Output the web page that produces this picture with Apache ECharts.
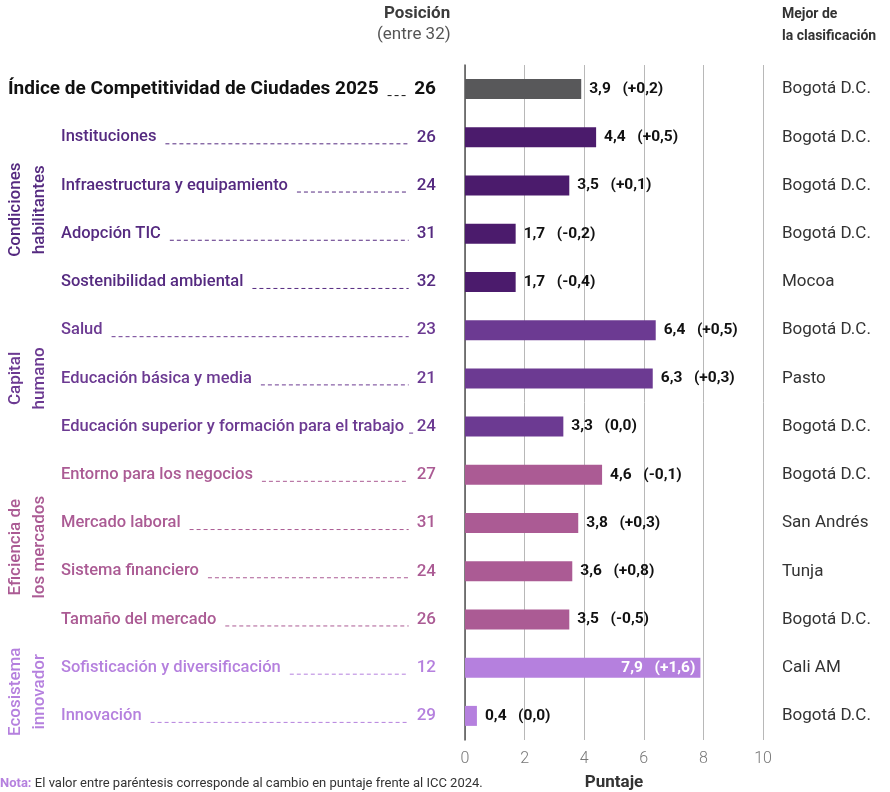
<!DOCTYPE html>
<html>
<head>
<meta charset="utf-8">
<script src="https://cdn.jsdelivr.net/npm/echarts@6/dist/echarts.min.js"></script>
<style>
  html, body { margin: 0; padding: 0; background: #fff; }
  #chart { width: 890px; height: 792px; }
</style>
</head>
<body>
<div id="chart"></div>
<script>
// datos
const names = [
    'Índice de Competitividad de Ciudades 2025',
    'Instituciones',
    'Infraestructura y equipamiento',
    'Adopción TIC',
    'Sostenibilidad ambiental',
    'Salud',
    'Educación básica y media',
    'Educación superior y formación para el trabajo',
    'Entorno para los negocios',
    'Mercado laboral',
    'Sistema financiero',
    'Tamaño del mercado',
    'Sofisticación y diversificación',
    'Innovación'
];
const scores = [3.9, 4.4, 3.5, 1.7, 1.7, 6.4, 6.3, 3.3, 4.6, 3.8, 3.6, 3.5, 7.9, 0.4];
const changes = ['+0,2', '+0,5', '+0,1', '-0,2', '-0,4', '+0,5', '+0,3', '0,0', '-0,1', '+0,3', '+0,8', '-0,5', '+1,6', '0,0'];
const ranks = [26, 26, 24, 31, 32, 23, 21, 24, 27, 31, 24, 26, 12, 29];
const best = ['Bogotá D.C.', 'Bogotá D.C.', 'Bogotá D.C.', 'Bogotá D.C.', 'Mocoa', 'Bogotá D.C.', 'Pasto',
    'Bogotá D.C.', 'Bogotá D.C.', 'San Andrés', 'Tunja', 'Bogotá D.C.', 'Cali AM', 'Bogotá D.C.'];
const pillarOf = ['idx', 'cond', 'cond', 'cond', 'cond', 'cap', 'cap', 'cap', 'efi', 'efi', 'efi', 'efi', 'eco', 'eco'];
const xTicks = [0, 2, 4, 6, 8, 10];

const pillars = {
    idx: {bar: '#58585a', text: '#111111', label: ''},
    cond: {bar: '#4b1b6c', text: '#552a80', label: 'Condiciones\nhabilitantes'},
    cap: {bar: '#6c3a92', text: '#6c3a92', label: 'Capital\nhumano'},
    efi: {bar: '#ab5b94', text: '#ab5b94', label: 'Eficiencia de\nlos mercados'},
    eco: {bar: '#b580de', text: '#b580de', label: 'Ecosistema\ninnovador'}
};

const FONT = 'Roboto';
const fmt = v => v.toFixed(1).replace('.', ',');

// para medir el ancho de los nombres (lineas punteadas)
const ctx = document.createElement('canvas').getContext('2d');
function textWidth(txt, font) {
    ctx.font = font;
    return ctx.measureText(txt).width;
}

const chart = echarts.init(document.getElementById('chart'));

function renderRow(params, api) {
    const i = api.value(1);
    const p = pillarOf[i];
    const y = api.coord([0, i])[1];
    const isIdx = p === 'idx';
    const nameX = isIdx ? 8 : 61;
    const nameFont = isIdx ? 'bold 19px ' + FONT : '500 16.5px ' + FONT;
    const rankFont = isIdx ? 'bold 19px ' + FONT : '500 17px ' + FONT;
    const rankX = 436;
    const nameW = textWidth(names[i], nameFont);
    const rankW = textWidth(String(ranks[i]), rankFont);
    const children = [
        {
            type: 'text', x: nameX, y: y,
            style: {text: names[i], fill: pillars[p].text, font: nameFont, align: 'left', verticalAlign: 'middle'}
        },
        {
            type: 'text', x: rankX, y: y,
            style: {text: String(ranks[i]), fill: pillars[p].text, font: rankFont, align: 'right', verticalAlign: 'middle'}
        },
        {
            type: 'line',
            shape: {x1: nameX + nameW + 9, y1: y + 6.5, x2: rankX - rankW - 8, y2: y + 6.5},
            style: {stroke: pillars[p].text, lineWidth: 1, lineDash: [4, 3]}
        },
        {
            type: 'text', x: 782, y: y,
            style: {text: best[i], fill: '#333333', font: '17px ' + FONT, align: 'left', verticalAlign: 'middle'}
        }
    ];
    // etiqueta vertical del pilar en la primera fila del grupo
    if (!isIdx && pillarOf[i - 1] !== p) {
        let last = i;
        while (pillarOf[last + 1] === p) last++;
        const yc = (y + api.coord([0, last])[1]) / 2;
        children.push({
            type: 'text', x: 28, y: yc, rotation: Math.PI / 2,
            style: {
                text: pillars[p].label, fill: pillars[p].text, font: '500 17px ' + FONT,
                align: 'center', verticalAlign: 'middle', lineHeight: 24
            }
        });
    }
    return {type: 'group', children: children};
}

const option = {
    animation: false,
    backgroundColor: '#ffffff',
    grid: {left: 465, right: 127, top: 65, bottom: 52, outerBoundsMode: 'none', containLabel: false},
    xAxis: {
        type: 'value',
        min: xTicks[0],
        max: xTicks[xTicks.length - 1],
        interval: 2,
        axisLine: {show: false},
        axisTick: {show: false},
        splitLine: {show: true, lineStyle: {color: '#b8b8b8', width: 1}},
        axisLabel: {color: '#777777', fontSize: 16, fontFamily: FONT, fontWeight: 300, margin: 11},
        name: 'Puntaje',
        nameLocation: 'middle',
        nameGap: 34,
        nameTextStyle: {color: '#333', fontSize: 17, fontWeight: 'bold', fontFamily: FONT}
    },
    yAxis: {
        type: 'category',
        inverse: true,
        data: names,
        axisLine: {show: true, lineStyle: {color: '#555', width: 1.5}},
        axisTick: {show: false},
        axisLabel: {show: false}
    },
    graphic: [
        {type: 'text', left: 384, top: 5, style: {text: 'Posición', fill: '#3c3c3c', font: 'bold 17px ' + FONT}},
        {type: 'text', left: 377, top: 26, style: {text: '(entre 32)', fill: '#555', font: '17px ' + FONT}},
        {type: 'text', left: 782, top: 7, style: {text: 'Mejor de', fill: '#333', font: 'bold 14px ' + FONT}},
        {type: 'text', left: 782, top: 29, style: {text: 'la clasificación', fill: '#333', font: 'bold 14px ' + FONT}},
        {
            type: 'text', left: 0, top: 777,
            style: {
                text: '{a|Nota:} {b|El valor entre paréntesis corresponde al cambio en puntaje frente al ICC 2024.}',
                rich: {
                    a: {fill: '#b580de', font: 'bold 13px ' + FONT},
                    b: {fill: '#333', font: '13px ' + FONT}
                }
            }
        }
    ],
    series: [
        {
            type: 'bar',
            barWidth: 20,
            data: scores.map((v, i) => ({
                value: v,
                itemStyle: {color: pillars[pillarOf[i]].bar},
                label: i === 12
                    ? {show: true, position: 'insideRight', distance: 5, color: '#fff'}
                    : {show: true, position: 'right', distance: 8, color: '#111'}
            })),
            label: {
                fontFamily: FONT,
                fontSize: 15.5,
                fontWeight: 'bold',
                formatter: p => fmt(scores[p.dataIndex]) + '   (' + changes[p.dataIndex] + ')'
            }
        },
        {
            type: 'custom',
            clip: false,
            silent: true,
            renderItem: renderRow,
            encode: {x: 0, y: 1},
            data: names.map((n, i) => [0, i])
        }
    ]
};

chart.setOption(option);
</script>
</body>
</html>
